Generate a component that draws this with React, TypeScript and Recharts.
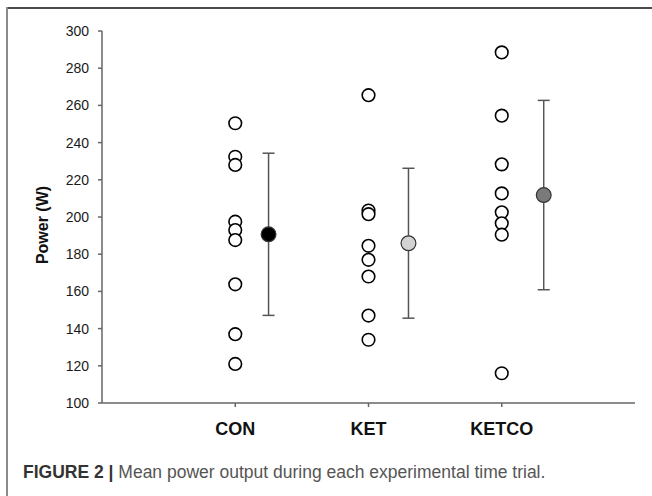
import React from 'react';
import { ScatterChart, Scatter, XAxis, YAxis, ErrorBar, Cell } from 'recharts';

const categories = ['CON', 'KET', 'KETCO'];
const conValues = [250.4, 232.4, 228, 197.5, 193, 187.6, 163.8, 137, 121];
const ketValues = [265.5, 203.5, 201.5, 184.5, 177, 168, 147, 134];
const ketcoValues = [288.5, 254.5, 228.3, 212.7, 202.5, 196.6, 190.5, 116];
const meanValues = [190.7, 185.9, 211.8];
const sdValues = [43.6, 40.3, 50.9];
// where the mean markers sit, in category units (1 = CON)
const meanPositions = [1.25, 2.3, 3.315];
const yTicks = [100, 120, 140, 160, 180, 200, 220, 240, 260, 280, 300];

const meanFills = ['#000000', '#d3d3d3', '#7a7a7a'];
const font = '"Liberation Sans", Arial, Helvetica, sans-serif';

const pointData = [conValues, ketValues, ketcoValues].flatMap((vals, i) =>
  vals.map((v) => ({ x: i + 1, y: v }))
);
const meanData = meanValues.map((m, i) => ({ x: meanPositions[i], y: m, sd: sdValues[i] }));

const OpenCircle = (props: any) => (
  <circle cx={props.cx} cy={props.cy} r={6.3} fill="#ffffff" stroke="#000000" strokeWidth={1.6} />
);

const MeanCircle = (props: any) => (
  <circle cx={props.cx} cy={props.cy} r={7.4} fill={props.fill} stroke="#333333" strokeWidth={1.2} />
);

const YLabel = () => (
  <text
    x={42}
    y={225}
    transform="rotate(-90 42 225)"
    textAnchor="middle"
    dominantBaseline="central"
    fontFamily={font}
    fontWeight="bold"
    fontSize={16}
    fill="#111"
  >
    Power (W)
  </text>
);

export default function App() {
  return (
    <div style={{ position: 'absolute', left: 0, top: 0, width: 652, height: 496, background: '#fff', overflow: 'hidden' }}>
      <div style={{ position: 'absolute', left: 6, top: 7, width: 646, height: 2, background: '#4a4a4a' }} />
      <div style={{ position: 'absolute', left: 6, top: 7, width: 2, height: 489, background: '#8a8a8a' }} />
      <div style={{ position: 'absolute', left: 0, top: 0 }}>
        <ScatterChart width={652} height={496} margin={{ top: 31, right: 17, bottom: 53, left: 42 }}>
          <XAxis
            type="number"
            dataKey="x"
            domain={[0, 4]}
            ticks={[1, 2, 3]}
            tickFormatter={(v) => categories[v - 1]}
            height={40}
            stroke="#666"
            strokeWidth={1.5}
            tickSize={4}
            tickMargin={15}
            tick={{ fill: '#111', fontSize: 18, fontWeight: 'bold', fontFamily: font }}
            allowDecimals
          />
          <YAxis
            type="number"
            dataKey="y"
            domain={[100, 300]}
            ticks={yTicks}
            width={60}
            stroke="#666"
            strokeWidth={1.5}
            tickSize={4}
            tickMargin={9}
            tick={{ fill: '#1a1a1a', fontSize: 14, fontFamily: font }}
            label={{ content: () => <YLabel /> }}
          />
          <Scatter data={pointData} shape={OpenCircle} isAnimationActive={false} />
          <Scatter data={meanData} shape={MeanCircle} isAnimationActive={false}>
            {meanData.map((_, i) => (
              <Cell key={i} fill={meanFills[i]} />
            ))}
            <ErrorBar dataKey="sd" direction="y" width={6} stroke="#555" strokeWidth={1.5} />
          </Scatter>
        </ScatterChart>
      </div>
      <div
        style={{
          position: 'absolute',
          left: 23,
          top: 461,
          fontFamily: font,
          fontSize: 17.5,
          lineHeight: '22px',
          color: '#555',
          whiteSpace: 'nowrap',
        }}
      >
        <span style={{ fontWeight: 'bold', color: '#333' }}>FIGURE 2 |</span> Mean power output during each experimental time trial.
      </div>
    </div>
  );
}
